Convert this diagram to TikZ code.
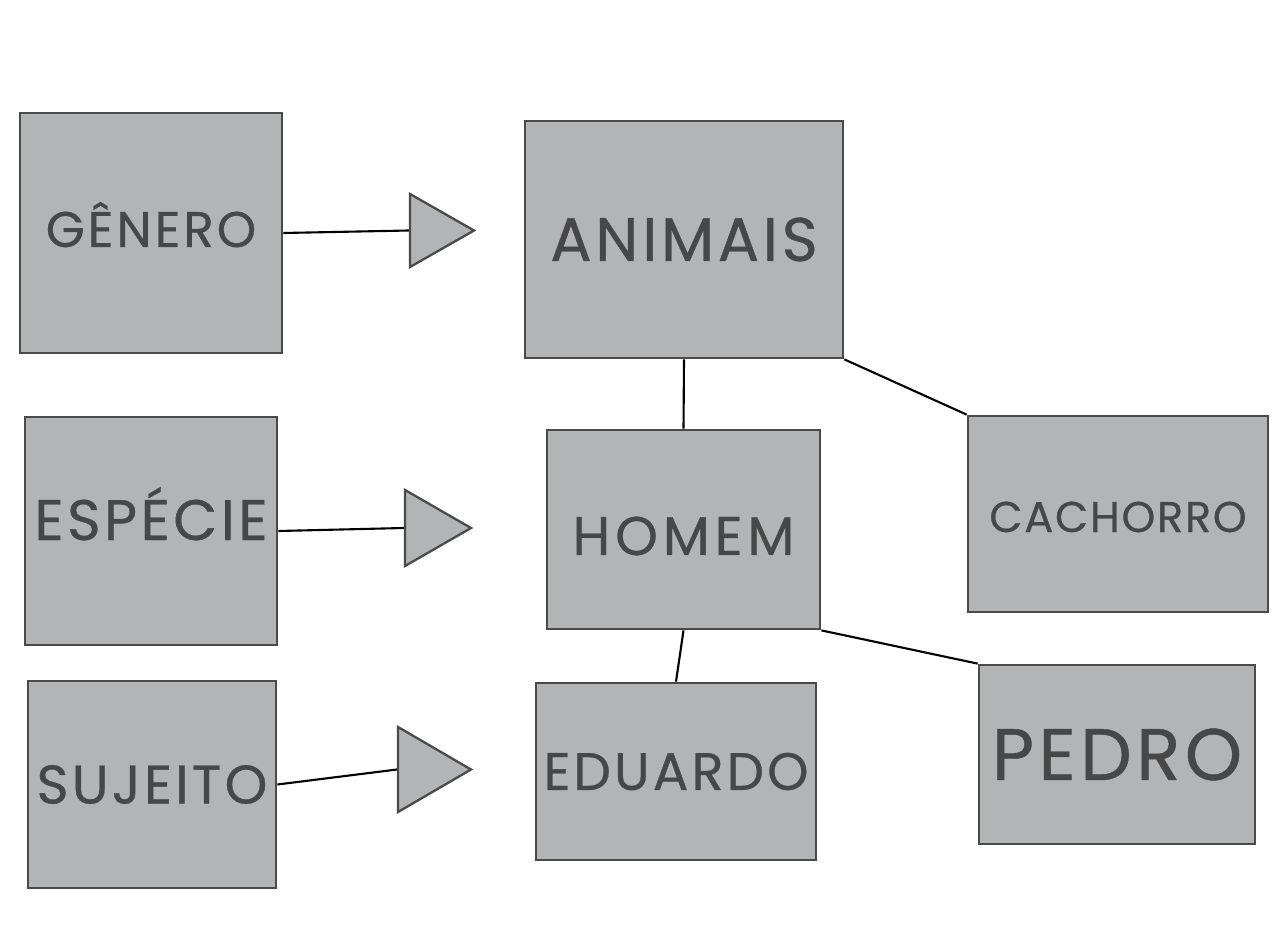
\documentclass[tikz,border=0pt]{standalone}
\usepackage{fontspec}
\setmainfont{Poppins}[LetterSpace=6, FakeBold=0.6]
\usepackage{xcolor}
\usetikzlibrary{shapes,positioning,calc}

\definecolor{boxfill}{HTML}{B3B4B6}
\definecolor{boxline}{HTML}{4A4A4A}
\definecolor{boxtext}{HTML}{474747}

\tikzset{
    termo/.style={rectangle, draw=boxline, fill=boxfill, line width=1.6pt,
        text=boxtext, inner sep=0pt},
    seta/.style={isosceles triangle, isosceles triangle stretches, draw=boxline,
        fill=boxfill, line width=1.3pt, inner sep=0pt, anchor=apex},
    liga/.style={draw=black, line width=1.2pt}
}

\begin{document}
\begin{tikzpicture}[x=0.02cm, y=-0.02cm]
    \useasboundingbox (0,0) rectangle (1283,942);

    % Left column: categories
    \node[termo, minimum width=5.24cm, minimum height=4.80cm,
        text height=0.56cm, text depth=0pt,
        font=\fontsize{28.5}{30}\selectfont] (genero) at (151,233) {GÊNERO};
    \node[termo, minimum width=5.04cm, minimum height=4.56cm,
        text height=0.36cm, text depth=0pt,
        font=\fontsize{32.5}{34}\selectfont] (especie) at (151,531) {ESPÉCIE};
    \node[termo, minimum width=4.96cm, minimum height=4.14cm,
        font=\fontsize{31}{33}\selectfont] (sujeito) at (152,784.5) {SUJEITO};

    % Triangles
    \node[seta, minimum height=1.28cm, minimum width=1.46cm] (t1) at (477,230.5) {};
    \node[seta, minimum height=1.32cm, minimum width=1.52cm] (t2) at (474,528) {};
    \node[seta, minimum height=1.46cm, minimum width=1.70cm] (t3) at (474,769.5) {};

    % Middle column
    \node[termo, minimum width=6.36cm, minimum height=4.74cm,
        font=\fontsize{35}{37}\selectfont] (animais) at (684,239.5) {ANIMAIS};
    \node[termo, minimum width=5.46cm, minimum height=3.98cm,
        text height=1.02cm, text depth=0pt,
        font=\fontsize{31}{33}\selectfont\addfontfeature{LetterSpace=9}] (homem) at (683.5,529.5) {HOMEM};
    \node[termo, minimum width=5.60cm, minimum height=3.54cm,
        font=\fontsize{30}{32}\selectfont] (eduardo) at (676,771.5) {EDUARDO};

    % Right column
    \node[termo, minimum width=6.00cm, minimum height=3.92cm,
        text height=0.72cm, text depth=0pt,
        font=\fontsize{24.5}{26}\selectfont\addfontfeature{LetterSpace=4}] (cachorro) at (1118,514) {CACHORRO};
    \node[termo, minimum width=5.52cm, minimum height=3.58cm,
        font=\fontsize{41.5}{43}\selectfont] (pedro) at (1117,754.5) {PEDRO};

    % Connectors
    \draw[liga] (genero.east) -- (t1.west);
    \draw[liga] (especie.east) -- (t2.west);
    \draw[liga] (sujeito.east) -- (t3.west);
    \draw[liga] (animais.south) -- (homem.north);
    \draw[liga] (animais.south east) -- (cachorro.north west);
    \draw[liga] (homem.south) -- (eduardo.north);
    \draw[liga] (homem.south east) -- (pedro.north west);
\end{tikzpicture}
\end{document}
